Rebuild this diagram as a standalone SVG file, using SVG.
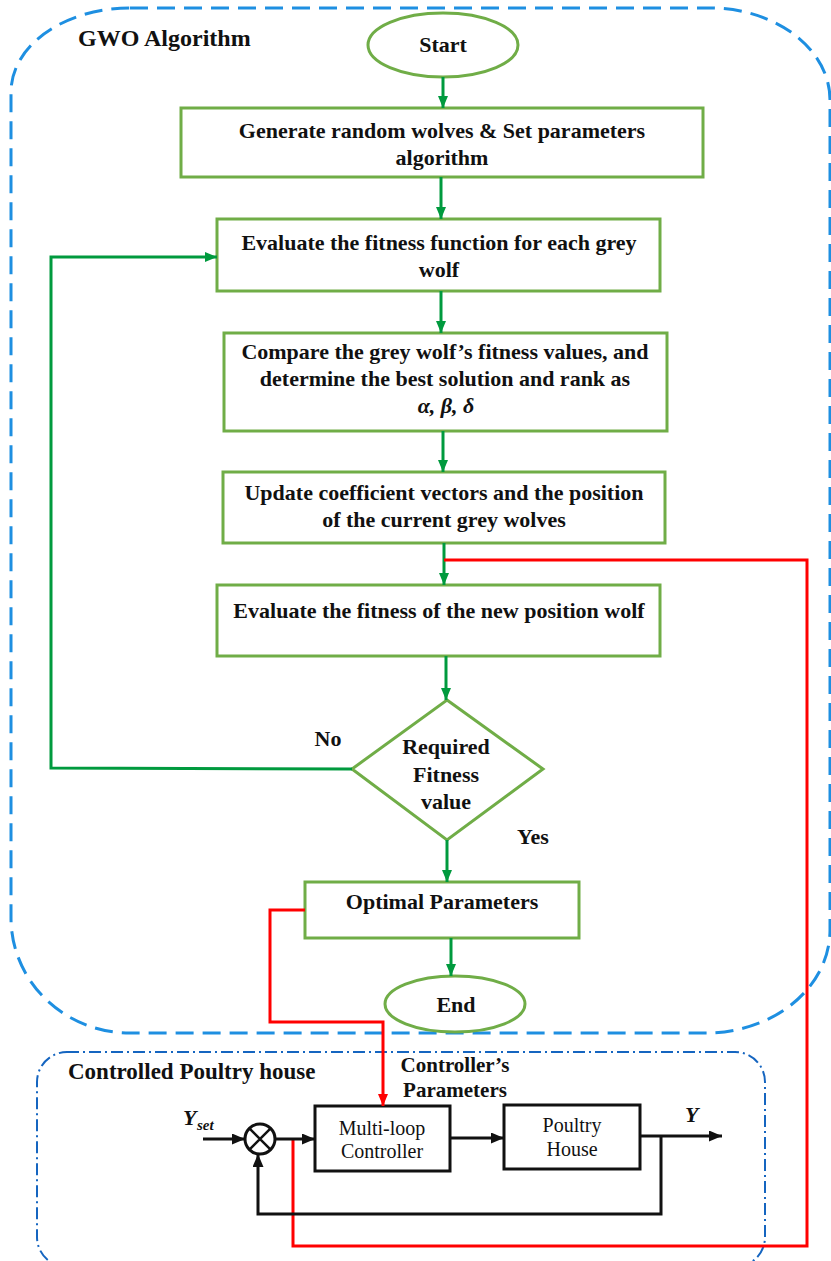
<svg xmlns="http://www.w3.org/2000/svg" width="831" height="1261" viewBox="0 0 831 1261">
  <style>
    .lbl { font-family: "Liberation Serif", "Times New Roman", serif; font-weight: bold; font-size: 22px; fill: #111; text-anchor: middle; }
    .title { font-family: "Liberation Serif", "Times New Roman", serif; font-weight: bold; font-size: 24px; fill: #111; }
    .plain { font-family: "Liberation Serif", "Times New Roman", serif; font-size: 20px; fill: #111; text-anchor: middle; }
    .math { font-family: "Liberation Serif", "Times New Roman", serif; font-weight: bold; font-style: italic; fill: #111; }
    .node { fill: #fff; stroke: #70AD47; stroke-width: 3; }
    .block { fill: #fff; stroke: #111; stroke-width: 3; }
    .flow { fill: none; stroke: #009A3E; stroke-width: 3; }
    .sig { fill: none; stroke: #111; stroke-width: 3; }
    .tune { fill: none; stroke: #FF0000; stroke-width: 3; }
  </style>
  <defs>
    <marker id="arrG" markerUnits="userSpaceOnUse" markerWidth="12" markerHeight="12" refX="12" refY="5" orient="auto">
      <path d="M0,0 L12,5 L0,10 z" fill="#009A3E"/>
    </marker>
    <marker id="arrK" markerUnits="userSpaceOnUse" markerWidth="14" markerHeight="12" refX="13" refY="5.5" orient="auto">
      <path d="M0,0 L13,5.5 L0,11 z" fill="#111"/>
    </marker>
    <marker id="arrR" markerUnits="userSpaceOnUse" markerWidth="12" markerHeight="12" refX="12" refY="5" orient="auto">
      <path d="M0,0 L12,5 L0,10 z" fill="#FF0000"/>
    </marker>
  </defs>

  <rect width="831" height="1261" fill="#fff"/>

  <!-- optimiser frame -->
  <g id="gwo-frame">
    <path d="M130,8 H710 A120,92 0 0 1 830,100 V930 A124,103 0 0 1 706,1033 H130 A119,115 0 0 1 11,918 V92 A119,84 0 0 1 130,8 Z"
          fill="none" stroke="#1E8FE1" stroke-width="3" stroke-dasharray="18 9"/>
    <text class="title" x="78" y="46">GWO Algorithm</text>
  </g>

  <!-- plant frame -->
  <g id="plant-frame">
    <rect x="37" y="1052" width="728" height="215" rx="30" ry="30" fill="none" stroke="#1565C0" stroke-width="2" stroke-dasharray="12 4 2 4"/>
    <text class="title" x="68" y="1079" style="font-size:23px">Controlled Poultry house</text>
  </g>

  <!-- flowchart nodes -->
  <g id="start">
    <ellipse class="node" cx="443" cy="45" rx="75" ry="32"/>
    <text class="lbl" x="443" y="52">Start</text>
  </g>
  <g id="init">
    <rect class="node" x="181" y="108" width="522" height="69"/>
    <text class="lbl" x="442" y="138">Generate random wolves &amp; Set parameters</text>
    <text class="lbl" x="442" y="165">algorithm</text>
  </g>
  <g id="evaluate">
    <rect class="node" x="217" y="219" width="443" height="72"/>
    <text class="lbl" x="439" y="250">Evaluate the fitness function for each grey</text>
    <text class="lbl" x="439" y="277">wolf</text>
  </g>
  <g id="rank">
    <rect class="node" x="224" y="333" width="443" height="98"/>
    <text class="lbl" x="445" y="359">Compare the grey wolf’s fitness values, and</text>
    <text class="lbl" x="445" y="386">determine the best solution and rank as</text>
    <text class="math" x="446" y="413" text-anchor="middle" style="font-size:22px">α, β, δ</text>
  </g>
  <g id="update">
    <rect class="node" x="223" y="472" width="442" height="71"/>
    <text class="lbl" x="444" y="500">Update coefficient vectors and the position</text>
    <text class="lbl" x="444" y="527">of the current grey wolves</text>
  </g>
  <g id="evaluate-new">
    <rect class="node" x="217" y="585" width="443" height="71"/>
    <text class="lbl" x="439" y="618">Evaluate the fitness of the new position wolf</text>
  </g>
  <g id="check">
    <polygon class="node" points="447,700 543,769 447,840 352,769"/>
    <text class="lbl" x="446" y="754">Required</text>
    <text class="lbl" x="446" y="782">Fitness</text>
    <text class="lbl" x="446" y="809">value</text>
    <text class="lbl" x="328" y="746">No</text>
    <text class="lbl" x="533" y="844">Yes</text>
  </g>
  <g id="optimal">
    <rect class="node" x="305" y="882" width="274" height="56"/>
    <text class="lbl" x="442" y="909">Optimal Parameters</text>
  </g>
  <g id="end">
    <ellipse class="node" cx="455" cy="1004" rx="70" ry="28"/>
    <text class="lbl" x="456" y="1012">End</text>
  </g>

  <!-- control loop blocks -->
  <g id="sum">
    <circle cx="260" cy="1139" r="15" fill="#fff" stroke="#111" stroke-width="3"/>
    <path d="M249.4,1128.4 L270.6,1149.6 M270.6,1128.4 L249.4,1149.6" stroke="#111" stroke-width="2.5"/>
  </g>
  <g id="controller">
    <rect class="block" x="315" y="1106" width="135" height="65"/>
    <text class="plain" x="382" y="1135">Multi-loop</text>
    <text class="plain" x="382" y="1158">Controller</text>
  </g>
  <g id="plant">
    <rect class="block" x="504" y="1105" width="136" height="64"/>
    <text class="plain" x="572" y="1132">Poultry</text>
    <text class="plain" x="572" y="1156">House</text>
  </g>
  <g id="signal-labels">
    <text class="math" x="183" y="1125" style="font-size:22px">Y</text>
    <text class="math" x="197" y="1130" style="font-size:15px">set</text>
    <text class="math" x="685" y="1122" style="font-size:22px">Y</text>
    <text class="title" x="455" y="1072" text-anchor="middle" style="font-size:21px">Controller’s</text>
    <text class="title" x="455" y="1097" text-anchor="middle" style="font-size:21px">Parameters</text>
  </g>

  <!-- connectors -->
  <g id="connectors">
    <line class="flow" x1="443" y1="77" x2="443" y2="108" marker-end="url(#arrG)"/>
    <line class="flow" x1="441" y1="177" x2="441" y2="219" marker-end="url(#arrG)"/>
    <line class="flow" x1="441" y1="291" x2="441" y2="333" marker-end="url(#arrG)"/>
    <line class="flow" x1="443" y1="431" x2="443" y2="472" marker-end="url(#arrG)"/>
    <line class="flow" x1="444" y1="543" x2="444" y2="585" marker-end="url(#arrG)"/>
    <line class="flow" x1="446" y1="656" x2="446" y2="700" marker-end="url(#arrG)"/>
    <line class="flow" x1="447" y1="840" x2="447" y2="882" marker-end="url(#arrG)"/>
    <line class="flow" x1="451" y1="938" x2="451" y2="976" marker-end="url(#arrG)"/>
    <polyline class="flow" points="352,769 51,768 51,257 217,257" marker-end="url(#arrG)"/>

    <polyline class="tune" points="444,560 807,560 807,1246 293,1246 293,1139"/>
    <polyline class="tune" points="305,910 270,910 270,1022 383,1022 383,1106" marker-end="url(#arrR)"/>

    <line class="sig" x1="203" y1="1139" x2="245" y2="1139" marker-end="url(#arrK)"/>
    <line class="sig" x1="275" y1="1139" x2="315" y2="1139" marker-end="url(#arrK)"/>
    <line class="sig" x1="450" y1="1138" x2="504" y2="1138" marker-end="url(#arrK)"/>
    <line class="sig" x1="640" y1="1136" x2="722" y2="1136" marker-end="url(#arrK)"/>
    <polyline class="sig" points="661,1136 661,1214 258,1214 258,1154" marker-end="url(#arrK)"/>
  </g>
</svg>
